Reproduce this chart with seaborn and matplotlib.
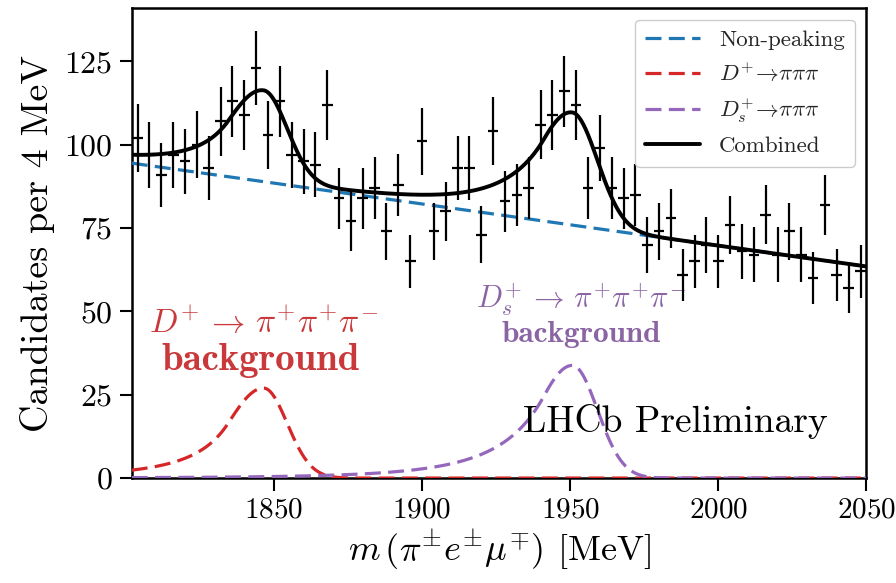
import numpy as np
import matplotlib
matplotlib.use("Agg")
import matplotlib.pyplot as plt
import seaborn as sns

# ---------------- data ----------------
bin_low = 1802          # MeV, first bin edge
bin_width = 4           # MeV
counts = [102, 97, 91, 97, 95, 100, 93, 107, 113, 109,
          123, 103, 113, 97, 95, 94, 112, 84, 77, 84,
          87, 74, 88, 65, 101, 74, 80, 93, 93, 73,
          104, 83, 85, 87, 106, 109, 116, 112, 87, 99,
          87, 84, 85, 70, 74, 78, 61, 65, 70, 65,
          76, 68, 67, 79, 67, 74, 67, 60, 82, 61,
          57, 62]

# fit components (parameters)
bkg_x = [1802, 2050]
bkg_y = [94.5, 63.5]
# Crystal-Ball-like peaks: mean, sigma_left, sigma_right, alpha, n, height
dplus_par = [1846.5, 12.0, 8.0, 1.0, 3.0, 27.0]
ds_par = [1950.7, 12.0, 8.5, 0.8, 5.0, 33.8]

x_ticks = [1850, 1900, 1950, 2000, 2050]
y_ticks = [0, 25, 50, 75, 100, 125]
legend_labels = ["Non-peaking", r"$D^{+}\!\to\!\pi\pi\pi$",
                 r"$D_{s}^{+}\!\to\!\pi\pi\pi$", "Combined"]

# ---------------- style ----------------
sns.set_theme(style="ticks")
plt.rcParams["font.family"] = ["cmr10", "DejaVu Serif"]
plt.rcParams["mathtext.fontset"] = "cm"
plt.rcParams["axes.unicode_minus"] = False
plt.rcParams["axes.formatter.use_mathtext"] = True

c_blue = "#1f77b4"
c_red = "#d62728"
c_purple = "#9467bd"


def cb_shape(x, mu, sl, sr, alpha, n, h):
    x = np.asarray(x, dtype=float)
    out = np.empty_like(x)
    right = x >= mu
    out[right] = np.exp(-0.5 * ((x[right] - mu) / sr) ** 2)
    t = (x[~right] - mu) / sl
    core = t > -alpha
    tmp = np.empty_like(t)
    tmp[core] = np.exp(-0.5 * t[core] ** 2)
    A = (n / alpha) ** n * np.exp(-0.5 * alpha ** 2)
    B = n / alpha - alpha
    tmp[~core] = A * (B - t[~core]) ** (-n)
    out[~right] = tmp
    return h * out


centers = bin_low + bin_width / 2 + bin_width * np.arange(len(counts))
counts_a = np.array(counts, dtype=float)
errs = np.sqrt(counts_a)

xf = np.linspace(bkg_x[0], bkg_x[1], 1500)
bkg = np.interp(xf, bkg_x, bkg_y)
dplus = cb_shape(xf, *dplus_par)
ds = cb_shape(xf, *ds_par)
comb = bkg + dplus + ds

fig = plt.figure(figsize=(8.96, 5.83), dpi=100)
ax = fig.add_axes([0.147, 0.180, 0.820, 0.806])

dash = (0, (5, 2.3))
lw = 2.3
sns.lineplot(x=xf, y=bkg, ax=ax, color=c_blue, lw=lw, linestyle=dash,
             label=legend_labels[0], zorder=3)
sns.lineplot(x=xf, y=dplus, ax=ax, color=c_red, lw=lw, linestyle=dash,
             label=legend_labels[1], zorder=3)
sns.lineplot(x=xf, y=ds, ax=ax, color=c_purple, lw=lw, linestyle=dash,
             label=legend_labels[2], zorder=3)
sns.lineplot(x=xf, y=comb, ax=ax, color="black", lw=2.8,
             label=legend_labels[3], zorder=4)

ax.errorbar(centers, counts_a, yerr=errs, xerr=1.8, fmt="none",
            ecolor="black", elinewidth=1.6, capsize=0, zorder=5)

ax.set_xlim(1802, 2050)
ax.set_ylim(0, 141)
ax.set_xticks(x_ticks)
ax.set_yticks(y_ticks)
ax.tick_params(axis="both", which="major", length=9,
               width=1.5, color="black", labelcolor="black", pad=5)
ax.tick_params(axis="y", labelsize=23)
ax.tick_params(axis="x", labelsize=21)
for s in ax.spines.values():
    s.set_visible(True)
    s.set_color("black")
    s.set_linewidth(1.8)

ax.set_ylabel("Candidates per 4 MeV", fontsize=27.5, color="black", labelpad=6)
ax.set_xlabel(r"$m\,(\pi^{\pm}e^{\pm}\mu^{\mp})$ [MeV]", fontsize=26,
              color="black", labelpad=3)

leg = ax.legend(loc="upper right", fontsize=16.5, frameon=True,
                handlelength=2.4, borderpad=0.45, labelspacing=0.5,
                handletextpad=0.8, fancybox=True, framealpha=1.0,
                borderaxespad=0.5)
leg.get_frame().set_edgecolor("#cccccc")
leg.get_frame().set_linewidth(1.0)

# annotations
red_txt = "#c9383a"
pur_txt = "#8a64a3"
ax.text(1846.6, 46.5, r"$D^{+}\,\rightarrow\,\pi^{+}\pi^{+}\pi^{-}$",
        color=red_txt, fontsize=24, ha="center", va="center")
ax.text(1845.6, 35.2, "background", family="cmb10", color=red_txt,
        fontsize=28, ha="center", va="center")
ax.text(1953.8, 53.5, r"$D_{s}^{+}\,\rightarrow\,\pi^{+}\pi^{+}\pi^{-}$",
        color=pur_txt, fontsize=22, ha="center", va="center")
ax.text(1953.8, 43.0, "background", family="cmb10", color=pur_txt,
        fontsize=22.5, ha="center", va="center")
ax.text(1985.4, 17.0, "LHCb Preliminary", color="black", fontsize=27,
        ha="center", va="center")

fig.savefig("out.png", dpi=100)
